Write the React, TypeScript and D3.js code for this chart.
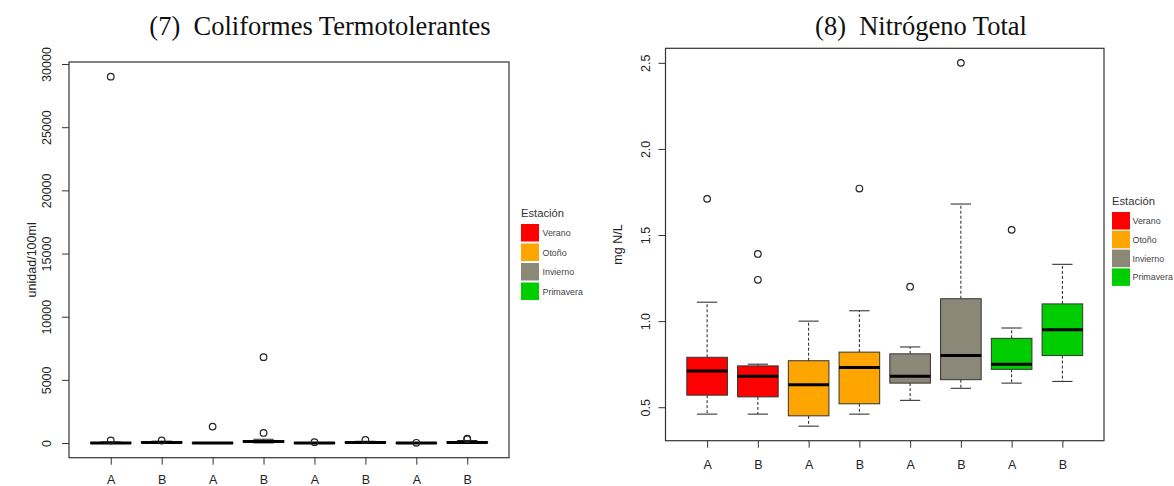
import React, { useEffect, useRef } from 'react';
import * as d3 from 'd3';

// categories and seasons
const stations = ['A', 'B', 'A', 'B', 'A', 'B', 'A', 'B'];
const seasons = ['Verano', 'Otoño', 'Invierno', 'Primavera'];
const seasonColors = ['#FF0000', '#FFA500', '#8B8878', '#00CD00'];
const boxSeason = [0, 0, 1, 1, 2, 2, 3, 3];

// (7) Coliformes Termotolerantes - box stats per group
const coliLow = [0, 5, 0, 10, 0, 5, 0, 5];
const coliQ1 = [2, 20, 2, 60, 2, 20, 1, 20];
const coliMed = [10, 40, 5, 120, 8, 40, 5, 40];
const coliQ3 = [40, 90, 15, 200, 20, 80, 12, 100];
const coliHigh = [90, 150, 30, 300, 40, 140, 25, 200];
const coliOutliers = [[29000, 200], [200], [1300], [6800, 800], [70], [240], [20], [350, 300]];
const coliTicks = [0, 5000, 10000, 15000, 20000, 25000, 30000];

// (8) Nitrógeno Total - box stats per group
const nitroLow = [0.46, 0.46, 0.39, 0.46, 0.54, 0.61, 0.64, 0.65];
const nitroQ1 = [0.57, 0.56, 0.45, 0.52, 0.64, 0.66, 0.72, 0.80];
const nitroMed = [0.71, 0.68, 0.63, 0.73, 0.68, 0.80, 0.75, 0.95];
const nitroQ3 = [0.79, 0.74, 0.77, 0.82, 0.81, 1.13, 0.90, 1.10];
const nitroHigh = [1.11, 0.75, 1.00, 1.06, 0.85, 1.68, 0.96, 1.33];
const nitroOutliers = [[1.71], [1.39, 1.24], [], [1.77], [1.20], [2.50], [1.53], []];
const nitroTicks = [0.5, 1.0, 1.5, 2.0, 2.5];

type Panel = {
  title: string;
  num: string;
  ylab: string;
  low: number[]; q1: number[]; med: number[]; q3: number[]; high: number[];
  outliers: number[][];
  ticks: number[];
  fmt: (v: number) => string;
  left: number; right: number; top: number; bottom: number;
  tickLabOff: number; xLabY: number; ylabX: number; titleX: number;
  legendX: number; legendY: number; legendStep: number; legendLabX: number;
};

const panels: Panel[] = [
  {
    title: 'Coliformes Termotolerantes', num: '(7)', ylab: 'unidad/100ml',
    low: coliLow, q1: coliQ1, med: coliMed, q3: coliQ3, high: coliHigh,
    outliers: coliOutliers, ticks: coliTicks, fmt: d => String(d),
    left: 69, right: 509, top: 62, bottom: 457.7,
    tickLabOff: 18.5, xLabY: 26.5, ylabX: 36, titleX: 320,
    legendX: 521, legendY: 224, legendStep: 19.5, legendLabX: 21.5,
  },
  {
    title: 'Nitrógeno Total', num: '(8)', ylab: 'mg N/L',
    low: nitroLow, q1: nitroQ1, med: nitroMed, q3: nitroQ3, high: nitroHigh,
    outliers: nitroOutliers, ticks: nitroTicks, fmt: d3.format('.1f'),
    left: 665.5, right: 1104, top: 48.3, bottom: 440.7,
    tickLabOff: 15.8, xLabY: 28, ylabX: 622, titleX: 921,
    legendX: 1112, legendY: 212, legendStep: 18.8, legendLabX: 20.5,
  },
];

function drawPanel(svg: d3.Selection<SVGSVGElement, unknown, null, undefined>, p: Panel) {
  const g = svg.append('g');

  // R-style range: data extent padded 4%
  const all = [...p.low, ...p.high, ...p.outliers.flat()];
  const [mn, mx] = d3.extent(all) as [number, number];
  const pad = (mx - mn) * 0.04;

  const x = d3.scaleLinear().domain([0.18, 8.82]).range([p.left, p.right]);
  const y = d3.scaleLinear().domain([mn - pad, mx + pad]).range([p.bottom, p.top]);
  const bw = (x(1.4) - x(0.6));
  const cw = bw / 2;

  // title
  g.append('text')
    .attr('x', p.titleX)
    .attr('y', 35)
    .attr('text-anchor', 'middle')
    .style('font-family', '"Liberation Serif", "Times New Roman", serif')
    .style('font-size', '26.5px')
    .style('fill', '#111')
    .text(`${p.num}\u00a0\u00a0${p.title}`);

  // boxes
  stations.forEach((s, i) => {
    const cx = x(i + 1);
    const color = seasonColors[boxSeason[i]];

    // whiskers (dashed)
    g.append('line')
      .attr('x1', cx).attr('x2', cx)
      .attr('y1', y(p.q3[i])).attr('y2', y(p.high[i]))
      .attr('stroke', '#222').attr('stroke-width', 1).attr('stroke-dasharray', '3,2');
    g.append('line')
      .attr('x1', cx).attr('x2', cx)
      .attr('y1', y(p.q1[i])).attr('y2', y(p.low[i]))
      .attr('stroke', '#222').attr('stroke-width', 1).attr('stroke-dasharray', '3,2');
    // caps
    [p.high[i], p.low[i]].forEach(v => {
      g.append('line')
        .attr('x1', cx - cw / 2).attr('x2', cx + cw / 2)
        .attr('y1', y(v)).attr('y2', y(v))
        .attr('stroke', '#222').attr('stroke-width', 1);
    });

    g.append('rect')
      .attr('x', cx - bw / 2)
      .attr('y', y(p.q3[i]))
      .attr('width', bw)
      .attr('height', Math.max(0.5, y(p.q1[i]) - y(p.q3[i])))
      .attr('fill', color)
      .attr('stroke', '#333')
      .attr('stroke-width', 1);

    g.append('line')
      .attr('x1', cx - bw / 2).attr('x2', cx + bw / 2)
      .attr('y1', y(p.med[i])).attr('y2', y(p.med[i]))
      .attr('stroke', '#000').attr('stroke-width', 3);

    p.outliers[i].forEach(v => {
      g.append('circle')
        .attr('cx', cx).attr('cy', y(v)).attr('r', 3.3)
        .attr('fill', 'none').attr('stroke', '#222').attr('stroke-width', 1.2);
    });
  });

  // plot frame
  g.append('rect')
    .attr('x', p.left).attr('y', p.top)
    .attr('width', p.right - p.left).attr('height', p.bottom - p.top)
    .attr('fill', 'none').attr('stroke', '#333').attr('stroke-width', 1.2);

  // y axis
  const ya = g.append('g')
    .attr('transform', `translate(${p.left},0)`)
    .call(d3.axisLeft(y).tickValues(p.ticks).tickSize(7).tickSizeOuter(0).tickFormat(d => p.fmt(+d)));
  ya.select('.domain').remove();
  ya.selectAll('line').attr('stroke', '#333');
  ya.selectAll('text')
    .attr('x', null).attr('dy', null)
    .attr('transform', `translate(${-p.tickLabOff},0) rotate(-90)`)
    .attr('text-anchor', 'middle')
    .style('font-family', '"Liberation Sans", Arial, sans-serif')
    .style('font-size', '12.5px')
    .style('fill', '#222');

  // x axis
  const xa = g.append('g')
    .attr('transform', `translate(0,${p.bottom})`)
    .call(d3.axisBottom(x).tickValues(d3.range(1, 9)).tickSize(7).tickSizeOuter(0).tickFormat(d => stations[+d - 1]));
  xa.select('.domain').remove();
  xa.selectAll('line').attr('stroke', '#333');
  xa.selectAll('text')
    .attr('y', p.xLabY).attr('dy', null)
    .style('font-family', '"Liberation Sans", Arial, sans-serif')
    .style('font-size', '12.5px')
    .style('fill', '#222');

  // y label
  g.append('text')
    .attr('transform', `translate(${p.ylabX},${(p.top + p.bottom) / 2}) rotate(-90)`)
    .attr('text-anchor', 'middle')
    .style('font-family', '"Liberation Sans", Arial, sans-serif')
    .style('font-size', '12.5px')
    .style('fill', '#222')
    .text(p.ylab);

  // legend
  const lg = g.append('g').attr('transform', `translate(${p.legendX},${p.legendY})`);
  lg.append('text')
    .attr('x', 0).attr('y', -7)
    .style('font-family', '"Liberation Sans", Arial, sans-serif')
    .style('font-size', '11.2px')
    .style('fill', '#333')
    .text('Estación');
  seasons.forEach((s, i) => {
    lg.append('rect')
      .attr('x', 0).attr('y', i * p.legendStep)
      .attr('width', 18).attr('height', 17.5)
      .attr('fill', seasonColors[i]);
    lg.append('text')
      .attr('x', p.legendLabX).attr('y', i * p.legendStep + 12)
      .style('font-family', '"Liberation Sans", Arial, sans-serif')
      .style('font-size', '8.9px')
      .style('fill', '#444')
      .text(s);
  });
}

export default function App() {
  const ref = useRef<SVGSVGElement>(null);

  useEffect(() => {
    const svg = d3.select(ref.current as SVGSVGElement);
    svg.selectAll('*').remove();
    panels.forEach(p => drawPanel(svg, p));
  }, []);

  return (
    <svg
      ref={ref}
      width={1174}
      height={486}
      style={{ position: 'absolute', left: 0, top: 0, background: '#fff' }}
    />
  );
}
